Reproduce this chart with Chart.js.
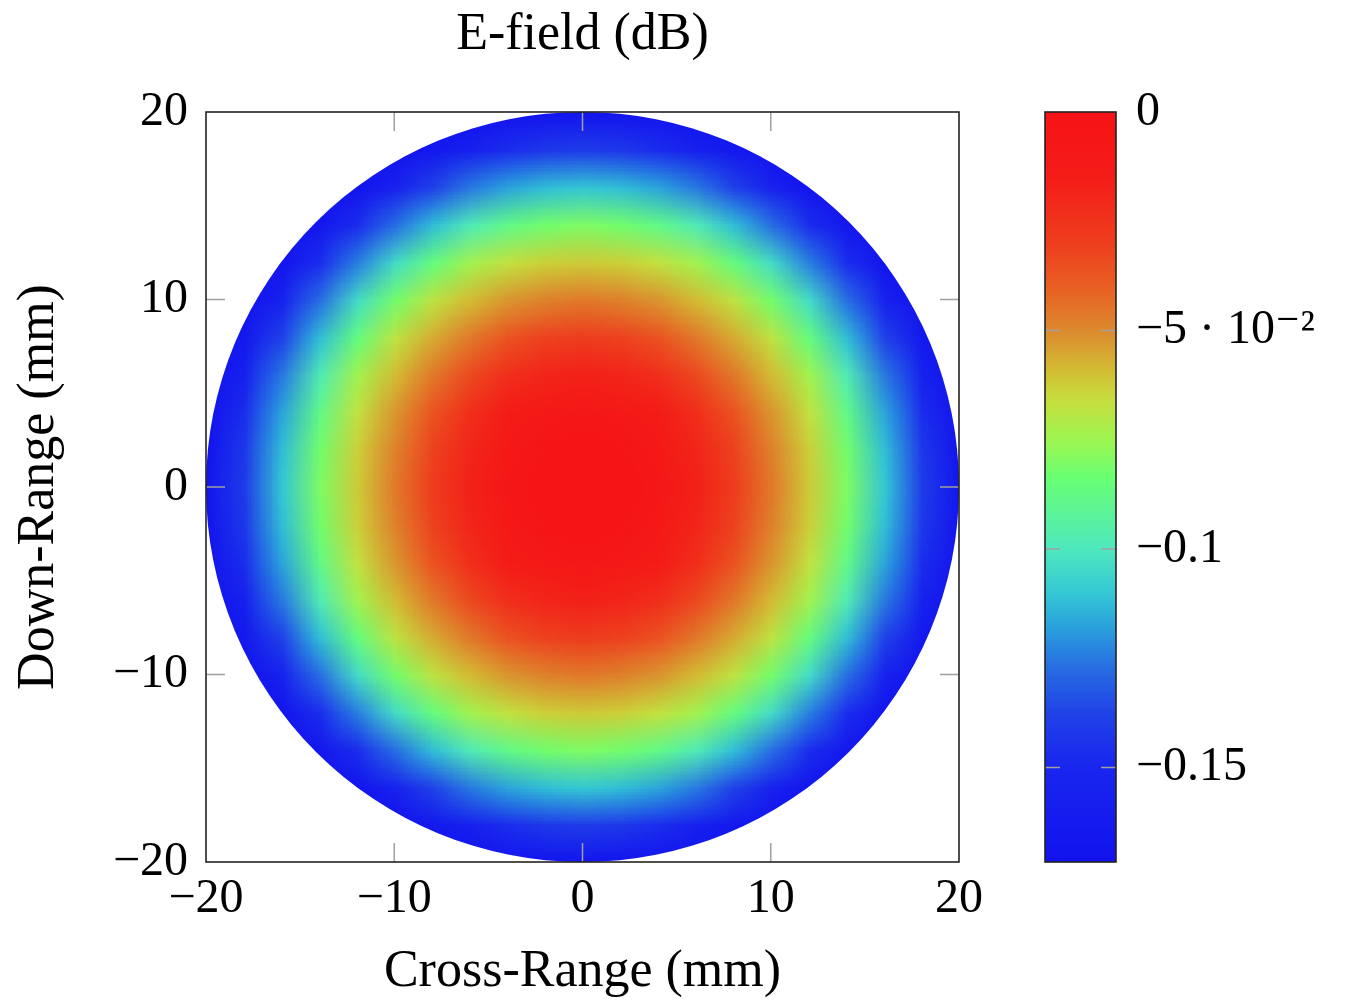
<!DOCTYPE html>
<html><head><meta charset="utf-8">
<script src="https://cdn.jsdelivr.net/npm/chart.js@4.4.1/dist/chart.umd.min.js"></script>
<style>
html,body{margin:0;padding:0;background:#fff;}
#wrap{position:relative;width:1355px;height:1007px;overflow:hidden;}
.box{position:absolute;top:0;}
</style></head><body>
<div id="wrap">
<div class="box" style="left:0;width:1000px;height:1007px"><canvas id="main" width="1000" height="1007"></canvas></div>
<div class="box" style="left:1000px;width:355px;height:1007px"><canvas id="cbar" width="355" height="1007"></canvas></div>
</div>
<script>
// ---- data ----
const crossRange = [-20,-18,-16,-14,-12,-10,-8,-6,-4,-2,0,2,4,6,8,10,12,14,16,18,20];
const downRange  = [20,18,16,14,12,10,8,6,4,2,0,-2,-4,-6,-8,-10,-12,-14,-16,-18,-20];
const n = null;
// E-field (dB), one row per down-range value (top row = +20 mm)
const eField = [
 [n,n,n,n,n,-.172,-.172,-.171,-.170,-.169,-.168,-.169,-.170,-.171,-.172,-.172,n,n,n,n,n],
 [n,n,n,-.172,-.172,-.170,-.164,-.155,-.147,-.142,-.140,-.142,-.147,-.155,-.164,-.170,-.172,-.172,n,n,n],
 [n,n,-.172,-.171,-.168,-.154,-.138,-.125,-.117,-.112,-.110,-.112,-.117,-.125,-.138,-.154,-.168,-.171,-.172,n,n],
 [n,-.172,-.171,-.166,-.147,-.127,-.112,-.098,-.088,-.082,-.080,-.082,-.088,-.098,-.112,-.127,-.147,-.166,-.171,-.172,n],
 [n,-.172,-.168,-.147,-.124,-.104,-.086,-.074,-.067,-.063,-.062,-.063,-.067,-.074,-.086,-.104,-.124,-.147,-.168,-.172,n],
 [-.172,-.170,-.154,-.127,-.104,-.082,-.068,-.059,-.052,-.048,-.046,-.048,-.052,-.059,-.068,-.082,-.104,-.127,-.154,-.170,-.172],
 [-.172,-.164,-.138,-.112,-.086,-.068,-.056,-.046,-.036,-.031,-.029,-.031,-.036,-.046,-.056,-.068,-.086,-.112,-.138,-.164,-.172],
 [-.171,-.155,-.125,-.098,-.074,-.059,-.046,-.033,-.023,-.019,-.017,-.019,-.023,-.033,-.046,-.059,-.074,-.098,-.125,-.155,-.171],
 [-.170,-.147,-.117,-.088,-.067,-.052,-.036,-.023,-.015,-.010,-.008,-.010,-.015,-.023,-.036,-.052,-.067,-.088,-.117,-.147,-.170],
 [-.169,-.142,-.112,-.082,-.063,-.048,-.031,-.019,-.010,-.005,-.003,-.005,-.010,-.019,-.031,-.048,-.063,-.082,-.112,-.142,-.169],
 [-.168,-.140,-.110,-.080,-.062,-.046,-.029,-.017,-.008,-.003,-.001,-.003,-.008,-.017,-.029,-.046,-.062,-.080,-.110,-.140,-.168],
 [-.169,-.142,-.112,-.082,-.063,-.048,-.031,-.019,-.010,-.005,-.003,-.005,-.010,-.019,-.031,-.048,-.063,-.082,-.112,-.142,-.169],
 [-.170,-.147,-.117,-.088,-.067,-.052,-.036,-.023,-.015,-.010,-.008,-.010,-.015,-.023,-.036,-.052,-.067,-.088,-.117,-.147,-.170],
 [-.171,-.155,-.125,-.098,-.074,-.059,-.046,-.033,-.023,-.019,-.017,-.019,-.023,-.033,-.046,-.059,-.074,-.098,-.125,-.155,-.171],
 [-.172,-.164,-.138,-.112,-.086,-.068,-.056,-.046,-.036,-.031,-.029,-.031,-.036,-.046,-.056,-.068,-.086,-.112,-.138,-.164,-.172],
 [-.172,-.170,-.154,-.127,-.104,-.082,-.068,-.059,-.052,-.048,-.046,-.048,-.052,-.059,-.068,-.082,-.104,-.127,-.154,-.170,-.172],
 [n,-.172,-.168,-.147,-.124,-.104,-.086,-.074,-.067,-.063,-.062,-.063,-.067,-.074,-.086,-.104,-.124,-.147,-.168,-.172,n],
 [n,-.172,-.171,-.166,-.147,-.127,-.112,-.098,-.088,-.082,-.080,-.082,-.088,-.098,-.112,-.127,-.147,-.166,-.171,-.172,n],
 [n,n,-.172,-.171,-.168,-.154,-.138,-.125,-.117,-.112,-.110,-.112,-.117,-.125,-.138,-.154,-.168,-.171,-.172,n,n],
 [n,n,n,-.172,-.172,-.170,-.164,-.155,-.147,-.142,-.140,-.142,-.147,-.155,-.164,-.170,-.172,-.172,n,n,n],
 [n,n,n,n,n,-.172,-.172,-.171,-.170,-.169,-.168,-.169,-.170,-.171,-.172,-.172,n,n,n,n,n]
];
const domainRadius = 20;
const axisTicks = [-20,-10,0,10,20];
const colorTicks = [0,-0.05,-0.1,-0.15];
const colorTickLabels = ['0','\u22125 \u00b7 10\u207b\u00b2','\u22120.1','\u22120.15'];
const colorMin = -0.1716, colorMax = 0;
// colormap (value -> rgb)
const cmapValues = [-0.1716,-0.15,-0.138,-0.127,-0.118,-0.11,-0.1,-0.0836,-0.0756,-0.066,-0.0595,-0.05,-0.041,-0.03,-0.015,0];
const cmapColors = [[18,18,238],[25,38,238],[32,65,232],[40,110,226],[42,160,220],[52,200,212],[78,232,190],[105,255,115],[155,246,82],[198,222,62],[210,190,52],[220,138,46],[232,98,36],[238,62,30],[244,28,24],[246,18,22]];

function cmap(v){
  if (v <= cmapValues[0]) return cmapColors[0];
  for (let k=1;k<cmapValues.length;k++){
    if (v <= cmapValues[k]){
      const t=(v-cmapValues[k-1])/(cmapValues[k]-cmapValues[k-1]);
      const a=cmapColors[k-1], b=cmapColors[k];
      return [0,1,2].map(c=>Math.round(a[c]+(b[c]-a[c])*t));
    }
  }
  return cmapColors[cmapColors.length-1];
}

const FONT = "'Liberation Serif','DejaVu Serif',serif";
const minus = v => v < 0 ? '\u2212' + Math.abs(v) : String(v);

const points = [];
downRange.forEach((yv,j)=>crossRange.forEach((xv,i)=>{ points.push({x:xv,y:yv,v:eField[j][i]}); }));

const heatPlugin = {
  id:'heat',
  beforeDatasetsDraw(chart){
    const {ctx, scales:{x,y}} = chart;
    const data = chart.data.datasets[0].data;
    const nx = crossRange.length, ny = downRange.length;
    const off = document.createElement('canvas'); off.width = nx; off.height = ny;
    const octx = off.getContext('2d');
    const img = octx.createImageData(nx, ny);
    data.forEach(p=>{
      if (p.v === null) return;
      const i = crossRange.indexOf(p.x), j = downRange.indexOf(p.y);
      const c = cmap(p.v), o = (j*nx+i)*4;
      img.data[o]=c[0]; img.data[o+1]=c[1]; img.data[o+2]=c[2]; img.data[o+3]=255;
    });
    octx.putImageData(img,0,0);
    const hx = (crossRange[1]-crossRange[0])/2, hy = (downRange[0]-downRange[1])/2;
    const L = x.getPixelForValue(crossRange[0]-hx), R = x.getPixelForValue(crossRange[nx-1]+hx);
    const T = y.getPixelForValue(downRange[0]+hy), B = y.getPixelForValue(downRange[ny-1]-hy);
    const cx = x.getPixelForValue(0), cy = y.getPixelForValue(0);
    ctx.save();
    ctx.beginPath();
    ctx.ellipse(cx, cy, x.getPixelForValue(domainRadius)-cx, cy-y.getPixelForValue(domainRadius), 0, 0, Math.PI*2);
    ctx.clip();
    ctx.imageSmoothingEnabled = true;
    ctx.imageSmoothingQuality = 'low';
    ctx.drawImage(off, L, T, R-L, B-T);
    ctx.restore();
  },
  afterDatasetsDraw(chart){
    const {ctx, chartArea:a, scales:{x,y}} = chart;
    ctx.save();
    ctx.strokeStyle = '#a0a0a0'; ctx.lineWidth = 1.5;
    const tl = 19;
    axisTicks.forEach(v=>{
      if (Math.abs(v)===20) return;
      const px = x.getPixelForValue(v), py = y.getPixelForValue(v);
      ctx.beginPath();
      ctx.moveTo(px,a.top); ctx.lineTo(px,a.top+tl);
      ctx.moveTo(px,a.bottom); ctx.lineTo(px,a.bottom-tl);
      ctx.moveTo(a.left,py); ctx.lineTo(a.left+tl,py);
      ctx.moveTo(a.right,py); ctx.lineTo(a.right-tl,py);
      ctx.stroke();
    });
    ctx.strokeStyle = '#222'; ctx.lineWidth = 1.6;
    ctx.strokeRect(a.left, a.top, a.right-a.left, a.bottom-a.top);
    ctx.restore();
  }
};

new Chart(document.getElementById('main'), {
  type:'scatter',
  data:{datasets:[{data:points, pointRadius:0, pointHoverRadius:0}]},
  plugins:[heatPlugin],
  options:{
    responsive:false, animation:false, events:[],
    layout:{padding:{left:0,right:41,top:0,bottom:0}},
    plugins:{
      legend:{display:false}, tooltip:{enabled:false},
      title:{display:true, fullSize:false, text:'E-field (dB)', color:'#000',
        font:{family:FONT, size:52, weight:'normal'}, padding:{top:4,bottom:45.6}}
    },
    scales:{
      x:{type:'linear', min:-20, max:20,
        afterBuildTicks: s => { s.ticks = axisTicks.map(v=>({value:v})); },
        afterFit: s => { s.height = 145; },
        grid:{display:false, drawTicks:false}, border:{display:false},
        ticks:{color:'#000', padding:9, maxRotation:0, font:{family:FONT,size:48}, callback:v=>minus(v)},
        title:{display:true, text:'Cross-Range (mm)', color:'#000', font:{family:FONT,size:52}, padding:{top:0,bottom:3}}
      },
      y:{type:'linear', min:-20, max:20,
        afterBuildTicks: s => { s.ticks = axisTicks.map(v=>({value:v})); },
        afterFit: s => { s.width = 206; },
        grid:{display:false, drawTicks:false}, border:{display:false},
        ticks:{color:'#000', padding:18, font:{family:FONT,size:48}, callback:v=>minus(v)},
        title:{display:true, text:'Down-Range (mm)', color:'#000', font:{family:FONT,size:52}, padding:{top:8,bottom:0}}
      }
    }
  }
});

const barPlugin = {
  id:'cbar',
  beforeDatasetsDraw(chart){
    const {ctx, chartArea:a, scales:{y}} = chart;
    const y0 = y.getPixelForValue(colorMin), y1 = y.getPixelForValue(colorMax);
    const g = ctx.createLinearGradient(0, y0, 0, y1);
    cmapValues.forEach((v,k)=>{
      const t = (v-colorMin)/(colorMax-colorMin);
      const c = cmapColors[k];
      g.addColorStop(Math.min(1,Math.max(0,t)), `rgb(${c[0]},${c[1]},${c[2]})`);
    });
    ctx.save();
    ctx.fillStyle = g;
    ctx.fillRect(a.left, a.top, a.right-a.left, a.bottom-a.top);
    ctx.strokeStyle = '#a0a0a0'; ctx.lineWidth = 1.5;
    colorTicks.forEach(v=>{
      if (v===colorMax) return;
      const py = y.getPixelForValue(v);
      ctx.beginPath();
      ctx.moveTo(a.left,py); ctx.lineTo(a.left+15,py);
      ctx.moveTo(a.right,py); ctx.lineTo(a.right-15,py);
      ctx.stroke();
    });
    ctx.strokeStyle = '#222'; ctx.lineWidth = 1.6;
    ctx.strokeRect(a.left, a.top, a.right-a.left, a.bottom-a.top);
    ctx.restore();
  }
};

new Chart(document.getElementById('cbar'), {
  type:'scatter',
  data:{datasets:[{data:[], pointRadius:0}]},
  plugins:[barPlugin],
  options:{
    responsive:false, animation:false, events:[],
    layout:{padding:{left:45,right:0,top:112,bottom:145}},
    plugins:{legend:{display:false}, tooltip:{enabled:false}, title:{display:false}},
    scales:{
      x:{display:false, min:0, max:1},
      y:{type:'linear', position:'right', min:colorMin, max:colorMax,
        afterBuildTicks: s => { s.ticks = colorTicks.map(v=>({value:v})); },
        afterFit: s => { s.width = 239; },
        grid:{display:false, drawTicks:false}, border:{display:false},
        ticks:{color:'#000', padding:20, font:{family:FONT,size:48},
          callback:(v)=>{ const k = colorTicks.findIndex(t=>Math.abs(t-v)<1e-9); return k>=0 ? colorTickLabels[k] : ''; }}
      }
    }
  }
});
</script>
</body></html>
